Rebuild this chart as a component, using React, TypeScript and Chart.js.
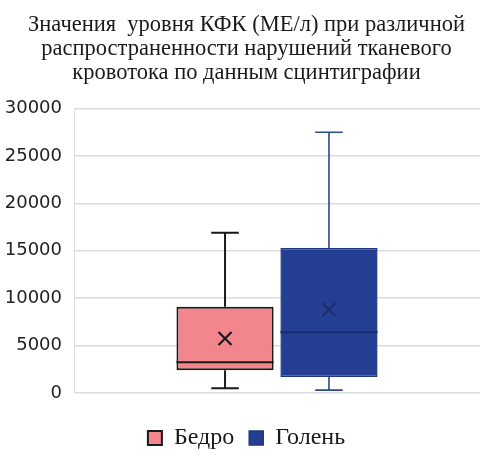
import React, { useEffect, useRef } from "react";
import { Chart, registerables } from "chart.js";

Chart.register(...registerables);

const categories = [""];
const seriesNames = ["Бедро", "Голень"];
const whiskerMin = [500, 300];
const q1Values = [2400, 1700];
const medianValues = [3250, 6400];
const q3Values = [9100, 15300];
const whiskerMax = [16900, 27500];
const meanValues = [5750, 8800];
const yMin = 0;
const yMax = 30000;
const yStep = 5000;
const titleLines = [
  "Значения  уровня КФК (МЕ/л) при различной",
  "распространенности нарушений тканевого",
  "кровотока по данным сцинтиграфии",
];

const fillColors = ["#F3858D", "#243F92"];
const borderColors = ["#1a1a1a", "#1f3682"];
const whiskerColors = ["#1a1a1a", "#2c4a8f"];
const medianColors = ["#1a1a1a", "#1b2a6a"];
const meanColors = ["#1a1a1a", "#1f2d6e"];

const boxPlugin = {
  id: "boxExtras",
  afterLayout(chart: any) {
    if (chart.legend) {
      chart.legend.top += 4;
      chart.legend.bottom += 4;
    }
  },
  afterDatasetsDraw(chart: any) {
    const ctx = chart.ctx;
    const y = chart.scales.y;
    chart.data.datasets.forEach((_ds: any, di: number) => {
      const meta = chart.getDatasetMeta(di);
      if (meta.hidden) return;
      meta.data.forEach((el: any) => {
        const x = el.x;
        const w = el.width;
        const cap = w * 0.142;
        const yTop = y.getPixelForValue(q3Values[di]);
        const yBot = y.getPixelForValue(q1Values[di]);
        const yMaxP = y.getPixelForValue(whiskerMax[di]);
        const yMinP = y.getPixelForValue(whiskerMin[di]);
        const yMed = y.getPixelForValue(medianValues[di]);
        const yMean = y.getPixelForValue(meanValues[di]);
        ctx.save();
        ctx.strokeStyle = whiskerColors[di];
        ctx.lineWidth = di === 0 ? 2 : 1.6;
        ctx.beginPath();
        ctx.moveTo(x, yTop);
        ctx.lineTo(x, yMaxP);
        ctx.moveTo(x - cap, yMaxP);
        ctx.lineTo(x + cap, yMaxP);
        ctx.moveTo(x, yBot);
        ctx.lineTo(x, yMinP);
        ctx.moveTo(x - cap, yMinP);
        ctx.lineTo(x + cap, yMinP);
        ctx.stroke();
        ctx.strokeStyle = medianColors[di];
        ctx.lineWidth = 2;
        ctx.beginPath();
        ctx.moveTo(x - w / 2, yMed);
        ctx.lineTo(x + w / 2, yMed);
        ctx.stroke();
        const m = 6.5;
        ctx.strokeStyle = meanColors[di];
        ctx.lineWidth = 2.2;
        ctx.beginPath();
        ctx.moveTo(x - m, yMean - m);
        ctx.lineTo(x + m, yMean + m);
        ctx.moveTo(x + m, yMean - m);
        ctx.lineTo(x - m, yMean + m);
        ctx.stroke();
        ctx.restore();
      });
    });
  },
};

export default function App() {
  const ref = useRef<HTMLCanvasElement>(null);
  useEffect(() => {
    document.body.style.margin = "0";
    const chart = new Chart(ref.current!, {
      type: "bar",
      data: {
        labels: categories,
        datasets: seriesNames.map((name, i) => ({
          label: name,
          data: [[q1Values[i], q3Values[i]]] as any,
          backgroundColor: fillColors[i],
          borderColor: borderColors[i],
          borderWidth: i === 0 ? 2 : 1.5,
          borderSkipped: false,
          categoryPercentage: 0.512,
          barPercentage: 0.935,
        })),
      },
      options: {
        animation: false,
        responsive: false,
        maintainAspectRatio: false,
        layout: { padding: { left: 0, right: 0, top: 0, bottom: 0 } },
        plugins: {
          title: {
            display: true,
            text: titleLines,
            color: "#1a1a1a",
            font: { family: "'Liberation Serif'", size: 22.5, weight: "normal", lineHeight: 1.075 },
            padding: { top: 13, bottom: 23 },
          },
          legend: {
            display: true,
            position: "bottom",
            labels: {
              color: "#1a1a1a",
              boxWidth: 14,
              boxHeight: 14,
              padding: 15,
              font: { family: "'Liberation Serif'", size: 24 },
            },
          },
          tooltip: { enabled: false },
        },
        scales: {
          x: {
            display: true,
            ticks: { display: false },
            grid: { display: false },
            border: { display: false },
            afterFit: (scale: any) => {
              scale.height = 14;
            },
          },
          y: {
            min: yMin,
            max: yMax,
            afterFit: (scale: any) => {
              scale.width = 74;
            },
            ticks: {
              stepSize: yStep,
              padding: 12,
              color: "#222",
              font: { family: "DejaVu Sans", size: 18 },
              callback: (v: any) => String(v),
            },
            grid: { color: "#dcdcdc", lineWidth: 1.5, drawTicks: false },
            border: { display: true, color: "#dcdcdc" },
          },
          yRight: {
            position: "right",
            display: true,
            min: yMin,
            max: yMax,
            ticks: { display: false },
            grid: { display: false },
            border: { display: false },
            afterFit: (scale: any) => {
              scale.width = 13;
            },
          },
        },
      },
      plugins: [boxPlugin],
    });
    return () => chart.destroy();
  }, []);
  return (
    <div style={{ position: "fixed", left: 0, top: 0, width: 493, height: 456, background: "#fff" }}>
      <canvas ref={ref} width={493} height={456} />
    </div>
  );
}
